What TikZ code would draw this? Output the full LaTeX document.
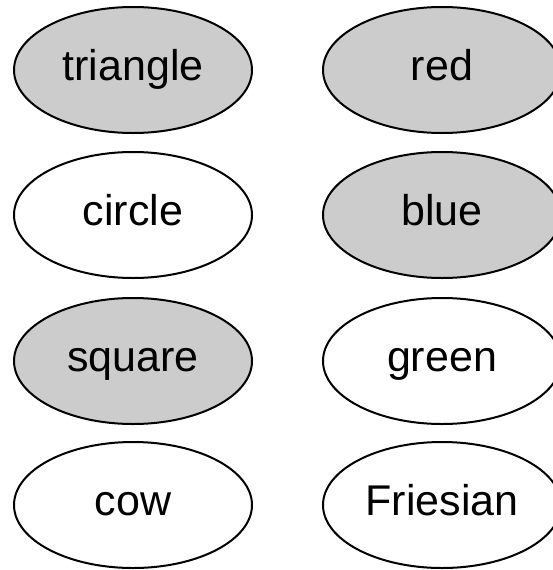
\documentclass[tikz,border=0pt]{standalone}
\usepackage{fontspec}
\setmainfont{Liberation Sans}
\usetikzlibrary{shapes.geometric}

\begin{document}
\begin{tikzpicture}[x=1pt, y=-1pt,
    blob/.style={ellipse, draw, line width=2pt, minimum width=238pt,
        minimum height=126pt, inner sep=0pt,
        font=\fontsize{43}{50}\selectfont, text height=31pt, text depth=10pt},
    shaded/.style={blob, fill=black!20},
    plain/.style={blob, fill=white}]

    % Parameters
    \def\colL{133}
    \def\colR{442}
    \def\rowA{70}
    \def\rowB{215}
    \def\rowC{361}
    \def\rowD{505}

    % Page
    \useasboundingbox (0,0) rectangle (552,570);

    % Left column
    \node[shaded] (tri)  at (\colL, \rowA) {triangle};
    \node[plain]  (circ) at (\colL, \rowB) {circle};
    \node[shaded] (sq)   at (\colL, \rowC) {square};
    \node[plain]  (cow)  at (\colL, \rowD) {cow};

    % Right column
    \node[shaded] (red)   at (\colR, \rowA) {red};
    \node[shaded] (blue)  at (\colR, \rowB) {blue};
    \node[plain]  (green) at (\colR, \rowC) {green};
    \node[plain]  (fries) at (\colR, \rowD) {Friesian};

\end{tikzpicture}
\end{document}
